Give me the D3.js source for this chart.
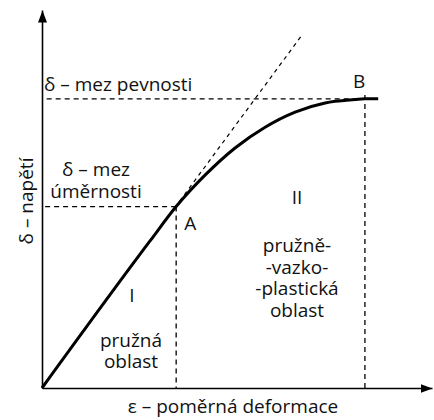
<!DOCTYPE html>
<html>
<head>
<meta charset="utf-8">
<script src="https://cdn.jsdelivr.net/npm/d3@7"></script>
<style>
  body { margin: 0; background: #fff; }
  text { font-family: "Open Sans", sans-serif; font-size: 19px; fill: #111; }
</style>
</head>
<body>
<div id="chart"></div>
<script>
var width = 434;
var height = 420;

// strain (x) / stress (y), arbitrary units
var curveX = [0, 2.77, 3.44, 4.18, 4.95, 5.72, 6.49, 7.26, 8.03, 8.28, 8.62];
var curveY = [0, 3.89, 4.80, 5.63, 6.35, 6.90, 7.30, 7.54, 7.63, 7.65, 7.65];
var pointA = [3.44, 4.80];
var pointB = [8.28, 7.65];
var tangentEnd = [6.69, 9.37];

var svg = d3.select("#chart").append("svg")
  .attr("width", width)
  .attr("height", height);

var x = d3.scaleLinear().domain([0, 10]).range([42, 432]);
var y = d3.scaleLinear().domain([0, 10]).range([388, 10]);

svg.append("defs").append("marker")
  .attr("id", "arrow")
  .attr("viewBox", "0 -5 12 10")
  .attr("refX", 12)
  .attr("refY", 0)
  .attr("markerWidth", 12)
  .attr("markerHeight", 10)
  .attr("markerUnits", "userSpaceOnUse")
  .attr("orient", "auto")
  .append("path")
  .attr("d", "M0,-4.5L12,0L0,4.5Z")
  .attr("fill", "#000");

// dashed guides
var guides = [
  [[0.12, pointB[1]], pointB],
  [[0.08, pointA[1]], pointA],
  [pointA, [pointA[0], 0]],
  [[pointB[0], pointB[1] + 0.1], [pointB[0], 0]]
];
svg.selectAll(".guide").data(guides).enter().append("line")
  .attr("class", "guide")
  .attr("x1", function(d) { return x(d[0][0]); })
  .attr("y1", function(d) { return y(d[0][1]); })
  .attr("x2", function(d) { return x(d[1][0]); })
  .attr("y2", function(d) { return y(d[1][1]); })
  .attr("stroke", "#000")
  .attr("stroke-width", 1.3)
  .attr("stroke-dasharray", "5,4");

// tangent (proportional line)
svg.append("line")
  .attr("x1", x(0)).attr("y1", y(0))
  .attr("x2", x(tangentEnd[0])).attr("y2", y(tangentEnd[1]))
  .attr("stroke", "#000")
  .attr("stroke-width", 1.2)
  .attr("stroke-dasharray", "4,4");

// axes
var xAxis = svg.append("g")
  .attr("transform", "translate(0," + y(0) + ")")
  .call(d3.axisBottom(x).tickValues([]).tickSizeOuter(0));
var yAxis = svg.append("g")
  .attr("transform", "translate(" + x(0) + ",0)")
  .call(d3.axisLeft(y).tickValues([]).tickSizeOuter(0));
svg.selectAll(".domain")
  .attr("stroke", "#000")
  .attr("stroke-width", 1.6)
  .attr("marker-end", "url(#arrow)");

// stress-strain curve
var line = d3.line()
  .x(function(d, i) { return x(curveX[i]); })
  .y(function(d, i) { return y(curveY[i]); })
  .curve(d3.curveMonotoneX);
svg.append("path")
  .datum(curveX)
  .attr("d", line)
  .attr("fill", "none")
  .attr("stroke", "#000")
  .attr("stroke-width", 3);

// labels
svg.append("text").attr("x", 44).attr("y", 91).text("δ – mez pevnosti");
svg.append("text").attr("x", 96).attr("y", 176).attr("text-anchor", "middle").text("δ – mez");
svg.append("text").attr("x", 96).attr("y", 198).attr("text-anchor", "middle").text("úměrnosti");
svg.append("text").attr("x", x(pointA[0]) + 8).attr("y", 230).text("A");
svg.append("text").attr("x", x(pointB[0]) - 12).attr("y", 88).text("B");
svg.append("text").attr("x", 132).attr("y", 302).attr("text-anchor", "middle").text("I");
svg.append("text").attr("x", 131).attr("y", 347).attr("text-anchor", "middle").text("pružná");
svg.append("text").attr("x", 131).attr("y", 368).attr("text-anchor", "middle").text("oblast");
svg.append("text").attr("x", 297).attr("y", 204).attr("text-anchor", "middle").text("II");
var region2 = ["pružně-", "-vazko-", "-plastická", "oblast"];
svg.selectAll(".r2").data(region2).enter().append("text")
  .attr("class", "r2")
  .attr("x", 297)
  .attr("y", function(d, i) { return 252 + i * 21.5; })
  .attr("text-anchor", "middle")
  .text(function(d) { return d; });
svg.append("text")
  .attr("x", 233).attr("y", 413)
  .attr("text-anchor", "middle")
  .text("ε – poměrná deformace");
svg.append("text")
  .attr("transform", "translate(33,201) rotate(-90)")
  .attr("text-anchor", "middle")
  .text("δ – napětí");
</script>
</body>
</html>
